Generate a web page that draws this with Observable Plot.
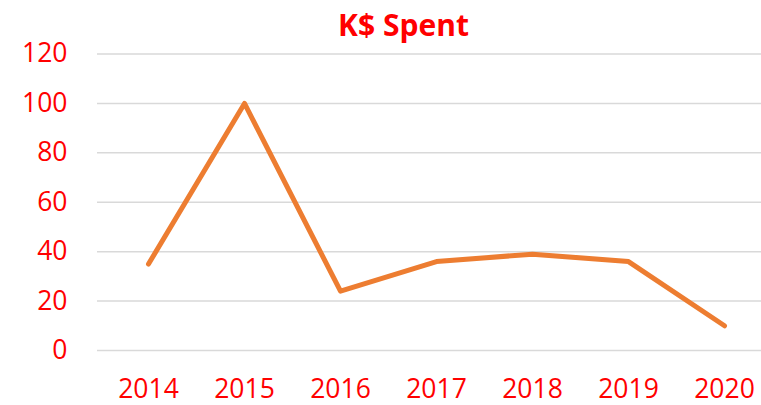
<!DOCTYPE html>
<html>
<head>
<meta charset="utf-8">
<script src="https://cdn.jsdelivr.net/npm/d3@7"></script>
<script src="https://cdn.jsdelivr.net/npm/@observablehq/plot@0.6"></script>
<style>
  html, body { margin: 0; padding: 0; background: #fff; }
  svg { display: block; }
</style>
</head>
<body>
<div id="chart"></div>
<script>
const years = ["2014", "2015", "2016", "2017", "2018", "2019", "2020"];
const spent = [35, 100, 24, 36, 39, 36, 10];
const yTicks = [0, 20, 40, 60, 80, 100, 120];
const title = "K$ Spent";

const data = years.map((y, i) => ({year: y, value: spent[i]}));

const chart = Plot.plot({
  width: 761,
  height: 405,
  marginLeft: 97,
  marginRight: 0,
  marginTop: 53.5,
  marginBottom: 55,
  style: {fontFamily: "'Open Sans', sans-serif", background: "#fff", overflow: "visible"},
  x: {type: "point", domain: years, range: [145.7, 726.7], padding: 0, label: null},
  y: {domain: [0, 120], label: null},
  marks: [
    Plot.ruleY(yTicks, {stroke: "#d9d9d9", strokeWidth: 1.5}),
    Plot.axisY({ticks: yTicks, tickSize: 0, tickPadding: 30, fontSize: 26.5, fill: "#ff0000", label: null}),
    Plot.axisX({tickSize: 0, tickPadding: 29, fontSize: 26.5, fill: "#ff0000", label: null}),
    Plot.line(data, {x: "year", y: "value", stroke: "#ED7D31", strokeWidth: 5, strokeLinecap: "round", strokeLinejoin: "round"}),
    Plot.text([title], {frameAnchor: "top", dx: -26, dy: -27.5, lineAnchor: "middle", fontSize: 30, fontWeight: "bold", fill: "#ff0000"})
  ]
});
document.getElementById("chart").appendChild(chart);
</script>
</body>
</html>
